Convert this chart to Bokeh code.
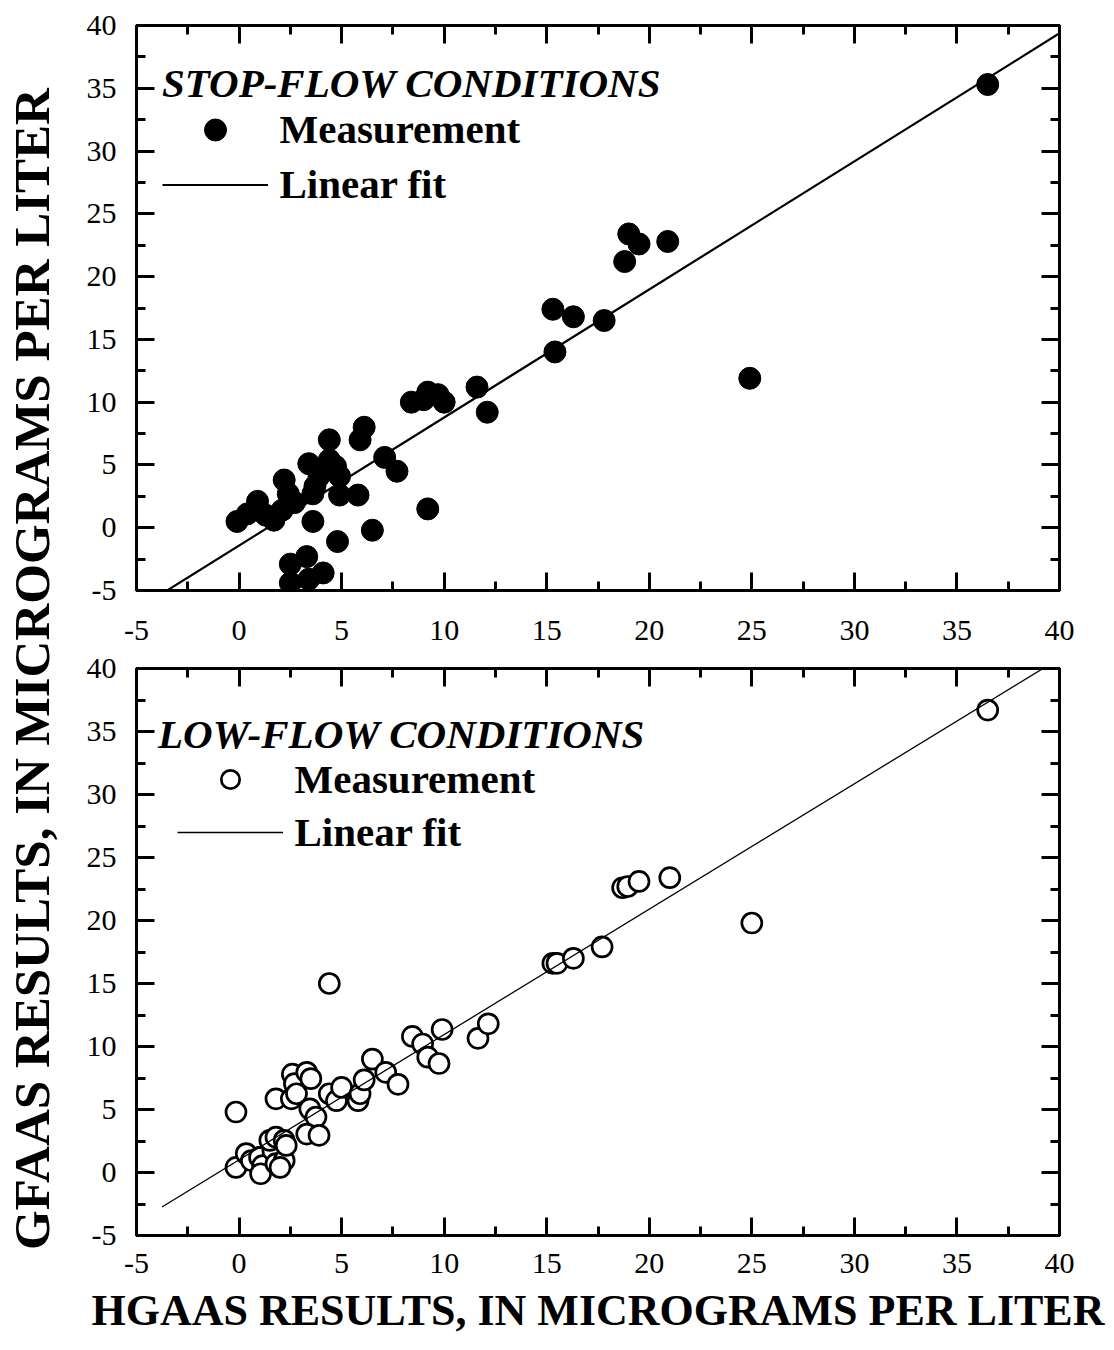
import math
from bokeh.plotting import figure
from bokeh.models import (Range1d, SingleIntervalTicker, LinearAxis, Label, Legend,
                          LegendItem, CustomJSTickFormatter)
from bokeh.layouts import row, column
from bokeh.embed import file_html
from bokeh.resources import INLINE

# ---------------- data ----------------
stop_hgaas = [-0.1, 0.4, 0.9, 0.9, 1.3, 1.7, 2.1, 2.2, 2.4, 2.7,
              3.4, 3.6, 3.7, 3.9, 4.4, 4.4, 4.7, 4.9, 4.9, 5.8,
              3.6, 4.8, 6.5, 6.1, 5.9, 7.1, 7.7, 9.2, 2.5, 3.3,
              4.1, 2.5, 3.4, 8.4, 9.2, 9.0, 9.7, 10.0, 11.6, 12.1,
              15.3, 15.4, 16.3, 17.8, 18.8, 19.0, 19.5, 20.9, 24.9, 36.5]
stop_gfaas = [0.5, 1.1, 2.1, 1.4, 1.0, 0.6, 1.4, 3.8, 2.7, 2.0,
              5.1, 2.7, 3.3, 4.1, 7.0, 5.4, 4.9, 4.1, 2.6, 2.6,
              0.5, -1.1, -0.2, 8.0, 7.0, 5.6, 4.5, 1.5, -2.9, -2.3,
              -3.6, -4.4, -4.1, 10.0, 10.8, 10.2, 10.6, 10.0, 11.2, 9.2,
              17.4, 14.0, 16.8, 16.5, 21.2, 23.4, 22.6, 22.8, 11.9, 35.3]

low_hgaas = [-0.15, -0.15, 0.35, 0.6, 1.0, 1.15, 1.05, 1.65, 1.8, 2.2,
             2.0, 1.5, 1.8, 2.2, 2.3, 1.8, 2.55, 2.6, 2.7, 2.8,
             3.3, 3.5, 3.45, 3.75, 3.3, 3.9, 4.4, 4.4, 4.75, 5.0,
             5.8, 5.9, 6.1, 6.5, 7.15, 7.75, 8.45, 8.95, 9.2, 9.75,
             9.9, 11.65, 12.15, 15.3, 15.5, 16.3, 17.7, 18.7, 18.95, 19.5,
             21.0, 25.0, 36.5]
low_gfaas = [0.4, 4.8, 1.5, 0.95, 1.2, 0.55, -0.1, 1.75, 0.7, 0.95,
             0.4, 2.55, 2.8, 2.55, 2.15, 5.85, 5.85, 7.8, 7.05, 6.25,
             7.95, 7.45, 5.05, 4.4, 3.05, 2.95, 15.0, 6.25, 5.7, 6.75,
             5.7, 6.25, 7.35, 9.0, 7.95, 7.0, 10.8, 10.2, 9.15, 8.65,
             11.35, 10.65, 11.8, 16.6, 16.6, 17.0, 17.9, 22.6, 22.7, 23.1,
             23.4, 19.8, 36.7]

# linear fits (slope / intercept)
stop_fit_x = [-5.0, 40.0]
stop_slope, stop_intercept = 1.02, -1.42
low_fit_x = [-3.76, 40.0]
low_slope, low_intercept = 0.995, 1.0

axis_min, axis_max, tick_step = -5, 40, 5
panel_titles = ["STOP-FLOW CONDITIONS", "LOW-FLOW CONDITIONS"]
legend_labels = ["Measurement", "Linear fit"]
x_title = "HGAAS RESULTS, IN MICROGRAMS PER LITER"
y_title = "GFAAS RESULTS, IN MICROGRAMS PER LITER"

SERIF = "Liberation Serif"


def make_panel(height, border_top, border_bottom, x_standoff, x_label=None):
    p = figure(width=1044, height=height,
               x_range=Range1d(axis_min, axis_max), y_range=Range1d(axis_min, axis_max),
               output_backend="svg", toolbar_location=None,
               min_border_left=66, min_border_right=55,
               min_border_top=border_top, min_border_bottom=border_bottom,
               x_axis_location=None, y_axis_location=None)
    p.grid.visible = False
    p.outline_line_color = "black"
    p.outline_line_width = 3
    p.background_fill_color = "white"
    p.border_fill_color = "white"
    for loc in ["below", "left", "above", "right"]:
        ax = LinearAxis(ticker=SingleIntervalTicker(interval=tick_step, num_minor_ticks=2))
        ax.axis_line_width = 3
        ax.axis_line_color = "black"
        ax.major_tick_in = 18
        ax.major_tick_out = 0
        ax.minor_tick_in = 9
        ax.minor_tick_out = 0
        ax.major_tick_line_width = 3
        ax.minor_tick_line_width = 3
        ax.major_tick_line_color = "black"
        ax.minor_tick_line_color = "black"
        if loc in ("below", "left"):
            ax.formatter = CustomJSTickFormatter(code="return tick.toString()")
            ax.major_label_text_font = SERIF
            ax.major_label_text_font_size = "30px"
            ax.major_label_text_color = "black"
            ax.major_label_standoff = x_standoff if loc == "below" else 20
        else:
            ax.formatter = CustomJSTickFormatter(code="return ''")
            ax.major_label_text_font_size = "0px"
            ax.major_label_standoff = 0
        if loc == "below" and x_label:
            ax.axis_label = x_label
            ax.axis_label_text_font = SERIF
            ax.axis_label_text_font_style = "bold"
            ax.axis_label_text_font_size = "44px"
            ax.axis_label_text_color = "black"
            ax.axis_label_standoff = 10
        p.add_layout(ax, loc)
    return p


# ---------------- top panel: stop-flow ----------------
top = make_panel(650, 25, 60, 30)
top_fit_y = [stop_slope * x + stop_intercept for x in stop_fit_x]
top_line = top.line(stop_fit_x, top_fit_y, line_color="black", line_width=2.2)
top_pts = top.scatter(stop_hgaas, stop_gfaas, marker="circle", size=22,
                      fill_color="black", line_color="black", line_width=1)
top.add_layout(Label(x=-3.76, y=35.46, text=panel_titles[0], text_font=SERIF,
                     text_font_style="bold italic", text_font_size="41px",
                     text_align="left", text_baseline="alphabetic", text_color="black"))
top_legend = Legend(items=[LegendItem(label=legend_labels[0], renderers=[top_pts]),
                           LegendItem(label=legend_labels[1], renderers=[top_line])],
                    location=(25.5, 378.5), orientation="vertical",
                    glyph_width=106, glyph_height=55, label_height=55, spacing=0,
                    padding=0, margin=0, label_standoff=12,
                    label_text_font=SERIF, label_text_font_style="bold",
                    label_text_font_size="41px", label_text_color="black",
                    background_fill_alpha=0, border_line_alpha=0)
top.add_layout(top_legend)

# ---------------- bottom panel: low-flow ----------------
bot = make_panel(700, 18, 115, 18, x_label=x_title)
bot_pts = bot.scatter(low_hgaas, low_gfaas, marker="circle", size=20,
                      fill_color="white", line_color="black", line_width=2.7)
bot_fit_y = [low_slope * x + low_intercept for x in low_fit_x]
bot_line = bot.line(low_fit_x, bot_fit_y, line_color="black", line_width=1.3)
bot.add_layout(Label(x=-3.95, y=34.84, text=panel_titles[1], text_font=SERIF,
                     text_font_style="bold italic", text_font_size="41px",
                     text_align="left", text_baseline="alphabetic", text_color="black"))
bot_legend = Legend(items=[LegendItem(label=legend_labels[0], renderers=[bot_pts]),
                           LegendItem(label=legend_labels[1], renderers=[bot_line])],
                    location=(40.5, 378), orientation="vertical",
                    glyph_width=106, glyph_height=46, label_height=50, spacing=3,
                    padding=0, margin=0, label_standoff=12,
                    label_text_font=SERIF, label_text_font_style="bold",
                    label_text_font_size="41px", label_text_color="black",
                    background_fill_alpha=0, border_line_alpha=0)
bot.add_layout(bot_legend)

# ---------------- left strip with the shared y title ----------------
left = figure(width=70, height=1350, x_range=Range1d(0, 70), y_range=Range1d(0, 1350),
              output_backend="svg", toolbar_location=None, min_border=0,
              x_axis_location=None, y_axis_location=None)
left.grid.visible = False
left.outline_line_color = None
left.background_fill_color = "white"
left.border_fill_color = "white"
left.add_layout(Label(x=31, y=681.5, text=y_title, angle=math.pi / 2,
                      text_font=SERIF, text_font_style="bold", text_font_size="51px",
                      text_align="center", text_baseline="middle", text_color="black"))

layout = row(left, column(top, bot, spacing=0), spacing=0)

open("out.html", "w").write(file_html(layout, INLINE))
